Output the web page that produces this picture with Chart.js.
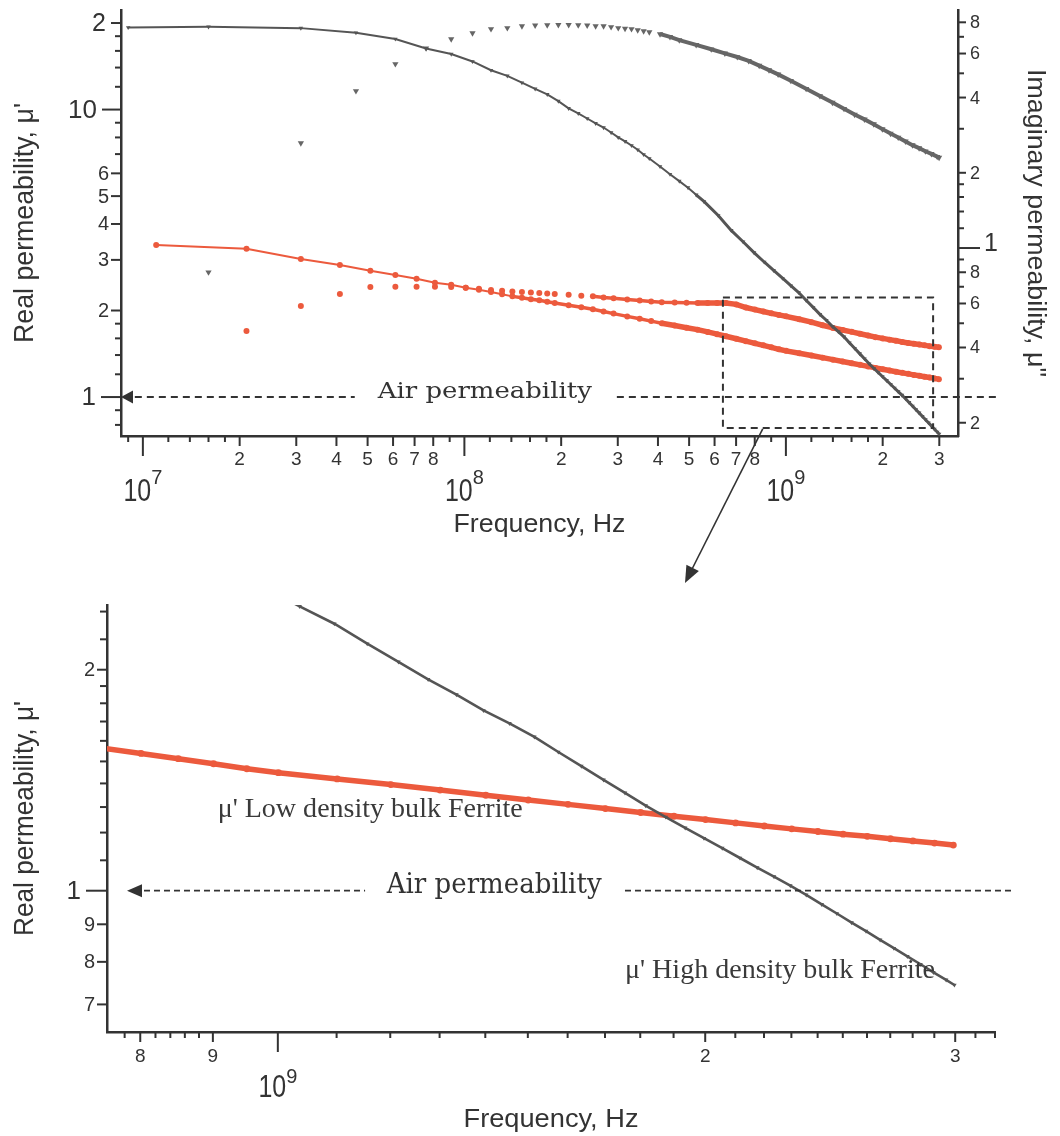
<!DOCTYPE html>
<html><head><meta charset="utf-8">
<script src="https://cdn.jsdelivr.net/npm/chart.js@4.4.1/dist/chart.umd.min.js"></script>
<style>
html,body{margin:0;padding:0;background:#fff;}
#wrap{position:relative;width:1060px;height:1136px;overflow:hidden;background:#fff;}
canvas{position:absolute;left:0;}
</style></head><body>
<div id="wrap">
<canvas id="topChart" width="1060" height="600" style="top:0"></canvas>
<canvas id="bottomChart" width="1060" height="596" style="top:540px"></canvas>
</div>
<script>
// ---------------- DATA (frequency in MHz) ----------------
// mu' high density bulk ferrite (real part, left axis)
const freqMuHigh = [9,16,31,46,61,76,91,106,121,136,151,166,181,196,211,226,241,256,271,286,301,316,331,346,361,376,406,436,466,496,526,556,616,676,736,796,856,916,976,1036,1096,1156,1216,1276,1336,1396,1456,1516,1576,1636,1696,1756,1816,1876,1936,1996,2056,2116,2176,2236,2296,2356,2416,2476,2536,2596,2656,2716,2776,2836,2896,2956,2996];
const muHigh = [19.3,19.4,19.2,18.5,17.6,16.3,15.6,14.7,13.7,13.1,12.4,11.8,11.3,10.7,10.1,9.7,9.31,8.95,8.66,8.32,8.0,7.75,7.5,7.25,6.98,6.76,6.34,5.96,5.64,5.35,5.05,4.79,4.28,3.80,3.47,3.18,2.95,2.76,2.59,2.44,2.31,2.17,2.05,1.94,1.85,1.76,1.69,1.62,1.545,1.478,1.416,1.359,1.306,1.26,1.218,1.179,1.143,1.108,1.075,1.045,1.016,0.987,0.958,0.931,0.905,0.881,0.857,0.835,0.814,0.794,0.774,0.756,0.744];
// mu'' high density bulk ferrite (imaginary part, right axis)
const freqMuppHigh = [16,31,46,61,76,91,106,121,136,151,166,181,196,211,226,241,256,271,286,301,316,331,346,361,376,406,436,466,526,586,646,706,766,826,886,946,1036,1156,1276,1396,1516,1636,1756,1876,1996,2116,2236,2356,2476,2596,2716,2836,2956,2996];
const muppHigh = [0.80,2.63,4.25,5.45,6.3,6.85,7.24,7.52,7.59,7.73,7.78,7.80,7.81,7.81,7.80,7.78,7.73,7.72,7.66,7.59,7.55,7.52,7.45,7.38,7.31,7.18,7.0,6.79,6.50,6.24,6.01,5.81,5.61,5.37,5.15,4.95,4.67,4.34,4.06,3.82,3.61,3.42,3.27,3.13,2.99,2.87,2.77,2.67,2.58,2.51,2.44,2.38,2.32,2.30];
// mu' low density bulk ferrite (real part, left axis)
const freqMuLow = [11,21,31,41,51,61,71,81,91,101,111,121,131,141,151,161,171,181,191,211,231,251,271,291,321,351,381,411,451,491,531,571,611,651,701,751,801,851,901,951,1001,1101,1201,1301,1401,1501,1601,1701,1801,1901,2001,2101,2201,2301,2401,2501,2601,2701,2801,2901,2991];
const muLow = [3.38,3.28,3.02,2.88,2.75,2.66,2.58,2.50,2.46,2.40,2.36,2.32,2.28,2.24,2.215,2.19,2.17,2.145,2.125,2.086,2.053,2.021,1.984,1.951,1.908,1.871,1.837,1.807,1.773,1.743,1.716,1.685,1.655,1.627,1.595,1.565,1.538,1.513,1.489,1.466,1.448,1.420,1.395,1.371,1.349,1.329,1.311,1.294,1.278,1.263,1.250,1.237,1.225,1.214,1.204,1.194,1.186,1.177,1.169,1.161,1.154];
// mu'' low density bulk ferrite (imaginary part, right axis)
const freqMuppLow = [21,31,41,51,61,71,81,91,101,111,121,131,141,151,161,171,181,191,211,231,251,271,291,321,351,381,411,451,491,531,571,611,651,701,751,801,851,901,951,1001,1101,1201,1301,1401,1501,1601,1701,1801,1901,2001,2101,2201,2301,2401,2501,2601,2701,2801,2901,2991];
const muppLow = [0.466,0.586,0.655,0.698,0.700,0.700,0.700,0.698,0.693,0.687,0.680,0.675,0.670,0.667,0.664,0.661,0.658,0.655,0.650,0.645,0.641,0.634,0.629,0.623,0.617,0.611,0.607,0.605,0.604,0.603,0.603,0.603,0.602,0.595,0.578,0.567,0.557,0.548,0.540,0.533,0.519,0.505,0.491,0.479,0.470,0.462,0.454,0.447,0.440,0.435,0.430,0.426,0.421,0.417,0.414,0.411,0.408,0.405,0.403,0.401];

// ---------------- AXIS RANGES ----------------
const topXRange = [8.55e6, 3.43e9];
const topYRange = [0.732, 22.2];
const topY2Range = [0.177, 8.96];
const botXRange = [7.58e8, 3.2e9];
const botYRange = [0.642, 2.45];

// ---------------- TICKS ----------------
const topXMinor = [9e6,1.2e7,1.4e7,1.6e7,1.8e7,9e7,1.2e8,1.4e8,1.6e8,1.8e8,9e8,1.2e9,1.4e9,1.6e9,1.8e9];
const topXLabeled = [[2e7,'2'],[3e7,'3'],[4e7,'4'],[5e7,'5'],[6e7,'6'],[7e7,'7'],[8e7,'8'],[2e8,'2'],[3e8,'3'],[4e8,'4'],[5e8,'5'],[6e8,'6'],[7e8,'7'],[8e8,'8'],[2e9,'2'],[3e9,'3']];
const topXDecades = [[1e7,'7'],[1e8,'8'],[1e9,'9']];
const topLeftMinor = [0.8,0.9,1.2,1.4,1.6,1.8,7,8,9,12,14,16,18];
const topLeftLabeled = [[1,'1',26,20],[2,'2',20,10],[3,'3',20,10],[4,'4',20,10],[5,'5',20,10],[6,'6',20,10],[10,'10',26,19],[20,'2',25,10]];
const topRightMinor = [0.3,0.5,0.7,0.9,1.2,1.4,1.6,1.8,3,5,7];
const topRightLabeled = [[0.2,'2',18,8],[0.4,'4',18,8],[0.6,'6',18,8],[0.8,'8',18,8],[1,'1',25,22],[2,'2',18,8],[4,'4',18,8],[6,'6',18,8],[8,'8',18,8]];
const botXMinor = [7.8e8,8.2e8,8.4e8,8.6e8,8.8e8,1.1e9,1.2e9,1.3e9,1.4e9,1.5e9,1.6e9,1.7e9,1.8e9,1.9e9,2.1e9,2.2e9,2.3e9,2.4e9,2.5e9,2.6e9,2.7e9,2.8e9,2.9e9,3.1e9,3.2e9];
const botXLabeled = [[8e8,'8'],[9e8,'9'],[2e9,'2'],[3e9,'3']];
const botXDecades = [[1e9,'9']];
const botYMinor = [1.1,1.2,1.3,1.4,1.5,1.6,1.7,1.8,1.9,2.2,2.4];
const botYLabeled = [[0.7,'7',20,10],[0.8,'8',20,10],[0.9,'9',20,10],[1,'1',26,21],[2,'2',20,10]];

// ---------------- TEXTS ----------------
const airValue = 1;
const txtAir = 'Air permeability';
const txtLow = "\u03bc' Low density bulk Ferrite";
const txtHigh = "\u03bc' High density bulk Ferrite";
const titleReal = "Real permeability, \u03bc'";
const titleImag = 'Imaginary permeability, \u03bc"';
const titleFreq = 'Frequency, Hz';

// ---------------- STYLE ----------------
const INK = '#333333';
const RED = '#ec5a3d';
const GRAY = '#555555';
const GRAY2 = '#666666';
const SANS = '"Liberation Sans", Arial, sans-serif';
const SERIF = '"Liberation Serif", "Times New Roman", serif';
const SERIF2 = '"DejaVu Serif", serif';
const CLEAR = 'rgba(0,0,0,0)';

Chart.defaults.font.family = SANS;

function pts(fs, vs){ return fs.map((f,i)=>({x:f*1e6, y:vs[i]})); }

function line(ctx,x1,y1,x2,y2){ ctx.beginPath(); ctx.moveTo(x1,y1); ctx.lineTo(x2,y2); ctx.stroke(); }

function fitText(ctx, text, x, y, font, targetW, align){
  ctx.save(); ctx.font = font;
  const w = ctx.measureText(text).width;
  const s = targetW ? targetW / w : 1;
  ctx.translate(x, y); ctx.scale(s, 1);
  ctx.textAlign = align || 'left'; ctx.textBaseline = 'alphabetic';
  ctx.fillText(text, 0, 0); ctx.restore();
}
function rotText(ctx, text, cx, cy, angle, font, targetW){
  ctx.save(); ctx.font = font;
  const w = ctx.measureText(text).width;
  ctx.translate(cx, cy); ctx.rotate(angle); ctx.scale(targetW / w, 1);
  ctx.textAlign = 'center'; ctx.textBaseline = 'alphabetic';
  ctx.fillText(text, 0, 0); ctx.restore();
}
function decadeLabel(ctx, x, baseY, supOff, exp){
  ctx.save();
  ctx.font = '29px ' + SANS; const w1 = ctx.measureText('10').width * 0.86;
  ctx.font = '20px ' + SANS; const w2 = ctx.measureText(exp).width;
  const x0 = x - (w1 + w2) / 2;
  ctx.textAlign = 'left'; ctx.textBaseline = 'alphabetic';
  ctx.save(); ctx.translate(x0, baseY); ctx.scale(0.86, 1.05);
  ctx.font = '29px ' + SANS; ctx.fillText('10', 0, 0); ctx.restore();
  ctx.font = '20px ' + SANS; ctx.fillText(exp, x0 + w1, baseY - supOff);
  ctx.restore();
}
function xTicks(ctx, xs, yb, minor, labeled, decades, labY, decBase, supOff){
  minor.forEach(v => { const x = xs.getPixelForValue(v); line(ctx, x, yb, x, yb + 6); });
  labeled.forEach(([v, t]) => {
    const x = xs.getPixelForValue(v); line(ctx, x, yb, x, yb + 10);
    ctx.font = '19px ' + SANS; ctx.textAlign = 'center'; ctx.textBaseline = 'middle';
    ctx.fillText(t, x, yb + labY);
  });
  decades.forEach(([v, e]) => {
    const x = xs.getPixelForValue(v); line(ctx, x, yb, x, yb + 20);
    decadeLabel(ctx, x, yb + decBase, supOff, e);
  });
}
function yTicksLeft(ctx, ys, xl, minor, labeled, minorLen){
  minor.forEach(v => { const y = ys.getPixelForValue(v); line(ctx, xl - minorLen, y, xl, y); });
  labeled.forEach(([v, t, size, len]) => {
    const y = ys.getPixelForValue(v); line(ctx, xl - len, y, xl, y);
    ctx.font = size + 'px ' + SANS; ctx.textAlign = 'right'; ctx.textBaseline = 'middle';
    ctx.fillText(t, xl - len - (size > 22 ? 5 : 2), y + 1);
  });
}
function yTicksRight(ctx, ys, xr, minor, labeled){
  minor.forEach(v => { const y = ys.getPixelForValue(v); line(ctx, xr, y, xr + 6, y); });
  labeled.forEach(([v, t, size, len]) => {
    const y = ys.getPixelForValue(v); line(ctx, xr, y, xr + len, y);
    ctx.font = size + 'px ' + SANS; ctx.textAlign = 'left'; ctx.textBaseline = 'middle';
    ctx.fillText(t, xr + len + 4, y + (size > 22 ? -4 : 1));
  });
}
function leftHead(ctx, x, y, len, half){
  ctx.beginPath(); ctx.moveTo(x, y); ctx.lineTo(x + len, y - half); ctx.lineTo(x + len, y + half); ctx.closePath(); ctx.fill();
}

function drawTop(chart){
  const {ctx, chartArea:a, scales:{x, y, y2}} = chart;
  ctx.save();
  ctx.strokeStyle = INK; ctx.fillStyle = INK; ctx.lineWidth = 2;
  xTicks(ctx, x, a.bottom, topXMinor, topXLabeled, topXDecades, 24, 65, 17);
  yTicksLeft(ctx, y, a.left, topLeftMinor, topLeftLabeled, 6);
  yTicksRight(ctx, y2, a.right, topRightMinor, topRightLabeled);
  const midY = (a.top + a.bottom) / 2;
  rotText(ctx, titleReal, 33, midY, -Math.PI/2, '28px ' + SANS, 240);
  rotText(ctx, titleImag, 1028, midY, Math.PI/2, '26px ' + SANS, 308);
  fitText(ctx, titleFreq, (a.left + a.right) / 2, 532, '26px ' + SANS, 172, 'center');
  // air permeability line
  const ya = y.getPixelForValue(airValue);
  ctx.lineWidth = 2; ctx.setLineDash([7,5]);
  line(ctx, x.getPixelForValue(9.44e6), ya, x.getPixelForValue(4.56e7), ya);
  line(ctx, x.getPixelForValue(2.98e8), ya, x.getPixelForValue(4.64e9), ya);
  ctx.setLineDash([]);
  leftHead(ctx, x.getPixelForValue(8.55e6), ya, 12, 6.5);
  fitText(ctx, txtAir, x.getPixelForValue(5.38e7), ya + 1, '23px ' + SERIF2, 214, 'left');
  // zoom box
  ctx.setLineDash([7,5]); ctx.lineWidth = 2;
  const bx1 = x.getPixelForValue(6.37e8), bx2 = x.getPixelForValue(2.87e9);
  const by1 = y.getPixelForValue(2.22), by2 = y.getPixelForValue(0.781);
  ctx.strokeRect(bx1, by1, bx2 - bx1, by2 - by1);
  ctx.setLineDash([]);
  // arrow to zoomed chart
  const sx = x.getPixelForValue(8.47e8), sy = by2 + 1, ex = 685, ey = 583;
  const ang = Math.atan2(ey - sy, ex - sx);
  ctx.lineWidth = 1.6;
  line(ctx, sx, sy, ex - 14 * Math.cos(ang), ey - 14 * Math.sin(ang));
  ctx.beginPath();
  ctx.moveTo(ex, ey);
  ctx.lineTo(ex - 17 * Math.cos(ang) + 7 * Math.sin(ang), ey - 17 * Math.sin(ang) - 7 * Math.cos(ang));
  ctx.lineTo(ex - 17 * Math.cos(ang) - 7 * Math.sin(ang), ey - 17 * Math.sin(ang) + 7 * Math.cos(ang));
  ctx.closePath(); ctx.fill();
  ctx.restore();
}

function drawBottom(chart){
  const {ctx, chartArea:a, scales:{x, y}} = chart;
  ctx.save();
  ctx.strokeStyle = INK; ctx.fillStyle = INK; ctx.lineWidth = 2;
  xTicks(ctx, x, a.bottom, botXMinor, botXLabeled, botXDecades, 25, 65, 14);
  yTicksLeft(ctx, y, a.left, botYMinor, botYLabeled, 7);
  const midY = (a.top + a.bottom) / 2;
  rotText(ctx, titleReal, 33, midY, -Math.PI/2, '28px ' + SANS, 235);
  fitText(ctx, titleFreq, (a.left + a.right) / 2, 587, '26px ' + SANS, 175, 'center');
  const ya = y.getPixelForValue(airValue);
  ctx.lineWidth = 1.8; ctx.setLineDash([6,4]);
  line(ctx, x.getPixelForValue(7.83e8) + 17, ya, x.getPixelForValue(1.152e9), ya);
  line(ctx, x.getPixelForValue(1.756e9), ya, x.getPixelForValue(3.29e9), ya);
  ctx.setLineDash([]);
  leftHead(ctx, x.getPixelForValue(7.83e8), ya, 15, 6.5);
  fitText(ctx, txtAir, x.getPixelForValue(1.193e9), ya + 2, '27px ' + SERIF2, 215, 'left');
  ctx.fillStyle = '#3a3a3a';
  fitText(ctx, txtLow, x.getPixelForValue(9.07e8), y.getPixelForValue(1.261), '28px ' + SERIF, 305, 'left');
  fitText(ctx, txtHigh, x.getPixelForValue(1.756e9), y.getPixelForValue(0.761), '28px ' + SERIF, 310, 'left');
  ctx.restore();
}

// log axis with an exact, forced range
function logAxis(position, range, fitFn){
  return {
    type: 'logarithmic', position: position, min: range[0], max: range[1], bounds: 'data',
    grid: { display: false }, ticks: { display: false },
    border: { display: true, color: INK, width: 2.5 },
    afterDataLimits(s){ s.min = range[0]; s.max = range[1]; },
    afterBuildTicks(s){ s.min = range[0]; s.max = range[1]; },
    afterFit: fitFn
  };
}
const baseOpts = {
  responsive: false, animation: false, devicePixelRatio: 1, events: [],
  plugins: { legend: { display: false }, tooltip: { enabled: false } },
  elements: { line: { tension: 0 } }
};

new Chart(document.getElementById('topChart'), {
  type: 'scatter',
  data: { datasets: [
    { data: pts(freqMuHigh, muHigh), yAxisID: 'y', showLine: true, borderColor: GRAY, borderWidth: 2,
      segment: { borderWidth: c => c.p0.parsed.x > 5e8 ? 3 : 2 },
      pointStyle: 'triangle', rotation: 180, pointRadius: 2.6, pointBackgroundColor: GRAY, pointBorderWidth: 0 },
    { data: pts(freqMuppHigh, muppHigh), yAxisID: 'y2', showLine: true, borderColor: GRAY2, borderWidth: 4,
      segment: { borderColor: c => c.p0.parsed.x < 3.9e8 ? CLEAR : GRAY2 },
      pointStyle: 'triangle', rotation: 180, pointRadius: 3.6, pointBackgroundColor: GRAY2, pointBorderWidth: 0 },
    { data: pts(freqMuLow, muLow), yAxisID: 'y', showLine: true, borderColor: RED, borderWidth: 2,
      segment: { borderWidth: c => c.p0.parsed.x > 4e8 ? 5.5 : (c.p0.parsed.x > 1.4e8 ? 3.5 : 2) },
      pointStyle: 'circle', pointRadius: 3, pointBackgroundColor: RED, pointBorderWidth: 0 },
    { data: pts(freqMuppLow, muppLow), yAxisID: 'y2', showLine: true, borderColor: RED, borderWidth: 5,
      segment: { borderColor: c => c.p0.parsed.x < 2.4e8 ? CLEAR : RED,
                 borderWidth: c => c.p0.parsed.x > 5e8 ? 5.5 : 3.5 },
      pointStyle: 'circle', pointRadius: 3, pointBackgroundColor: RED, pointBorderWidth: 0 }
  ]},
  options: Object.assign({}, baseOpts, {
    layout: { padding: { top: 10, left: 0, right: 0, bottom: 0 }, autoPadding: false },
    scales: {
      x: logAxis('bottom', topXRange, s => { s.height = 164; }),
      y: logAxis('left', topYRange, s => { s.width = 121; }),
      y2: logAxis('right', topY2Range, s => { s.width = 102; })
    }
  }),
  plugins: [{ id: 'topDeco', afterDraw: drawTop }]
});

new Chart(document.getElementById('bottomChart'), {
  type: 'scatter',
  data: { datasets: [
    { data: pts(freqMuHigh, muHigh), showLine: true, borderColor: GRAY, borderWidth: 2.6,
      pointStyle: 'triangle', rotation: 180, pointRadius: 2.6, pointBackgroundColor: GRAY, pointBorderWidth: 0 },
    { data: pts(freqMuLow, muLow), showLine: true, borderColor: RED, borderWidth: 5.5,
      pointStyle: 'circle', pointRadius: 3.4, pointBackgroundColor: RED, pointBorderWidth: 0 }
  ]},
  options: Object.assign({}, baseOpts, {
    layout: { padding: { top: 65, left: 0, right: 65, bottom: 0 }, autoPadding: false },
    scales: {
      x: logAxis('bottom', botXRange, s => { s.height = 104; }),
      y: logAxis('left', botYRange, s => { s.width = 107; })
    }
  }),
  plugins: [{ id: 'bottomDeco', afterDraw: drawBottom }]
});
</script>
</body></html>
